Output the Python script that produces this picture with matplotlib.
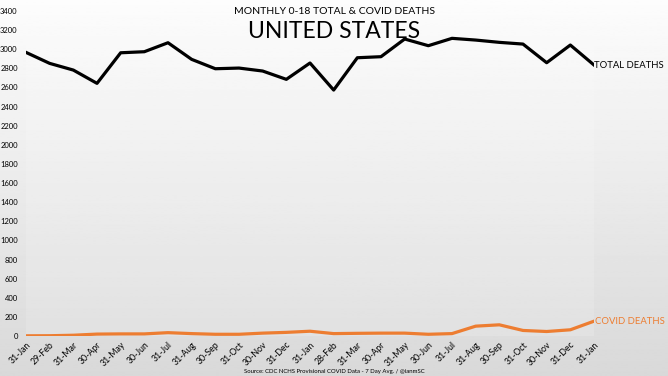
import numpy as np
import matplotlib
matplotlib.use('Agg')
from matplotlib import pyplot as plt

plt.rcParams['font.family'] = ['Lato', 'DejaVu Sans']

months = ['31-Jan', '29-Feb', '31-Mar', '30-Apr', '31-May', '30-Jun', '31-Jul',
          '31-Aug', '30-Sep', '31-Oct', '30-Nov', '31-Dec', '31-Jan', '28-Feb',
          '31-Mar', '30-Apr', '31-May', '30-Jun', '31-Jul', '31-Aug', '30-Sep',
          '31-Oct', '30-Nov', '31-Dec', '31-Jan']
total_deaths = [2967, 2852, 2782, 2643, 2963, 2974, 3068, 2894, 2796, 2803, 2772,
                2685, 2856, 2573, 2911, 2922, 3107, 3037, 3114, 3096, 3072, 3054,
                2859, 3044, 2835]
covid_deaths = [2, 3, 8, 20, 22, 22, 35, 25, 18, 18, 30, 38, 50, 25, 28, 30, 30,
                18, 25, 103, 117, 58, 47, 65, 155]
orange = '#ED7D31'

fig = plt.figure(figsize=(6.68, 3.76), dpi=100)

# фон с градиентом
bg = fig.add_axes([0, 0, 1, 1], zorder=0)
grad = np.linspace(0.99, 0.85, 256).reshape(-1, 1)
bg.imshow(grad, aspect='auto', cmap='gray', vmin=0, vmax=1, extent=[0, 1, 0, 1])
bg.axis('off')

ax = fig.add_axes([26 / 668, 1 - 336 / 376, 568 / 668, 325 / 376], zorder=1)
ax.patch.set_facecolor('white')
ax.patch.set_alpha(0.15)
x = np.arange(len(months))
ax.plot(x, total_deaths, color='black', lw=2.3)
ax.plot(x, covid_deaths, color=orange, lw=2.3)
ax.set_xlim(0, len(months) - 1)
ax.set_ylim(0, 3400)
ax.set_yticks(range(0, 3401, 200))
ax.set_xticks(x)
ax.set_xticklabels(months, rotation=45, ha='right', va='top', fontsize=6.3,
                   rotation_mode='anchor')
ax.tick_params(axis='y', labelsize=5.5, length=0, pad=6)
ax.tick_params(axis='x', length=0, pad=3)
for s in ax.spines.values():
    s.set_visible(False)

ax.text(len(months) - 1, total_deaths[-1], 'TOTAL DEATHS', fontsize=6.8,
        va='center', ha='left', color='black')
ax.text(len(months) - 1 + 0.05, covid_deaths[-1], 'COVID DEATHS', fontsize=6.8,
        va='center', ha='left', color=orange)

fig.text(0.5, 1 - 11 / 376, 'MONTHLY 0-18 TOTAL & COVID DEATHS', ha='center',
         va='center', fontsize=7.5)
fig.text(0.5, 1 - 31 / 376, 'UNITED STATES', ha='center', va='center',
         fontsize=16.5)
fig.text(0.5, 1 - 371 / 376,
         'Source: CDC NCHS Provisional COVID Data - 7 Day Avg. / @ianmSC',
         ha='center', va='center', fontsize=4.3)

fig.savefig('out.png', dpi=100)
